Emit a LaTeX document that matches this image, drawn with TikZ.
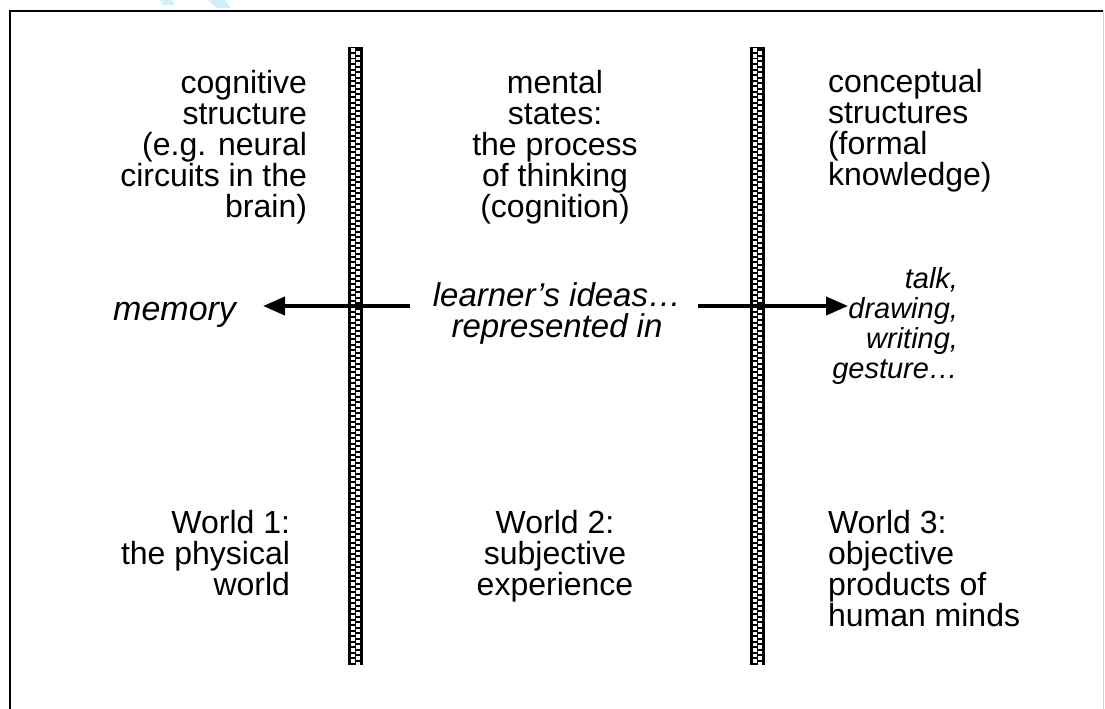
\documentclass[tikz,border=0pt]{standalone}
\usepackage{fontspec}
\setmainfont{Liberation Sans}
\usetikzlibrary{arrows.meta}
\definecolor{wm}{RGB}{210,238,251}
\begin{document}
\begin{tikzpicture}[x=1pt,y=-1pt,
  txt/.style={inner sep=0pt, outer sep=0pt, font=\fontsize{32}{31}\selectfont},
  itx/.style={inner sep=0pt, outer sep=0pt, font=\fontsize{33}{31}\selectfont\itshape},
  itm/.style={inner sep=0pt, outer sep=0pt, font=\fontsize{34}{31}\selectfont\itshape},
  itl/.style={inner sep=0pt, outer sep=0pt, font=\fontsize{29}{30}\selectfont\itshape},
  arr/.style={line width=4pt, -{Triangle[length=22pt,width=18pt]}},
  frame/.style={line width=2pt, black},
]
\fill[white] (0,0) rectangle (1105,709);
\useasboundingbox (0,0) rectangle (1105,709);
% watermark remnant
\fill[wm] (160,0) -- (172,0) -- (175,5) -- (163,5) -- cycle;
\fill[wm] (208,0) -- (225,0) -- (231,8) -- (217,8) -- cycle;
% frame
\draw[frame] (10,709) -- (10,11) -- (1103,11);
\draw[gray!35, line width=1pt] (1103.5,11) -- (1103.5,709);
% checkered bars
\foreach \bx in {348,750}{
  \fill[black] (\bx,47) rectangle (\bx+15,665);
  \foreach \i in {0,...,111}{
    \fill[white] ({\bx+2.5},{48.5+5.5*\i}) rectangle +(4,3.6);
    \fill[white] ({\bx+8.3},{51.2+5.5*\i}) rectangle +(4,3.6);
  }
}
% texts
\node[txt, align=right, anchor=north east] (w1top) at (307,70) {cognitive\\structure\\(e.g. neural\\circuits in the\\brain)};
\node[txt, align=center, anchor=north] (w2top) at (555,70) {mental\\states:\\the process\\of thinking\\(cognition)};
\node[txt, align=left, anchor=north west] (w3top) at (828,69) {conceptual\\structures\\(formal\\knowledge)};
\node[itm, anchor=base east] (memory) at (236,320) {memory};
\node[itx, align=center, anchor=north] (ideas) at (557,283) {learner’s ideas…\\represented in};
\node[itl, align=right, anchor=north east] (forms) at (958,267) {talk,\\drawing,\\writing,\\gesture…};
\node[txt, align=right, anchor=north east] (w1) at (290,510) {World 1:\\the physical\\world};
\node[txt, align=center, anchor=north] (w2) at (555,510) {World 2:\\subjective\\experience};
\node[txt, align=left, anchor=north west] (w3) at (828,510) {World 3:\\objective\\products of\\human minds};
% arrows
\coordinate (lt) at (410,306);
\coordinate (lh) at (263,306);
\coordinate (rt) at (698,306);
\coordinate (rh) at (848,306);
\draw[arr] (lt) -- (lh);
\draw[arr] (rt) -- (rh);
\end{tikzpicture}
\end{document}
